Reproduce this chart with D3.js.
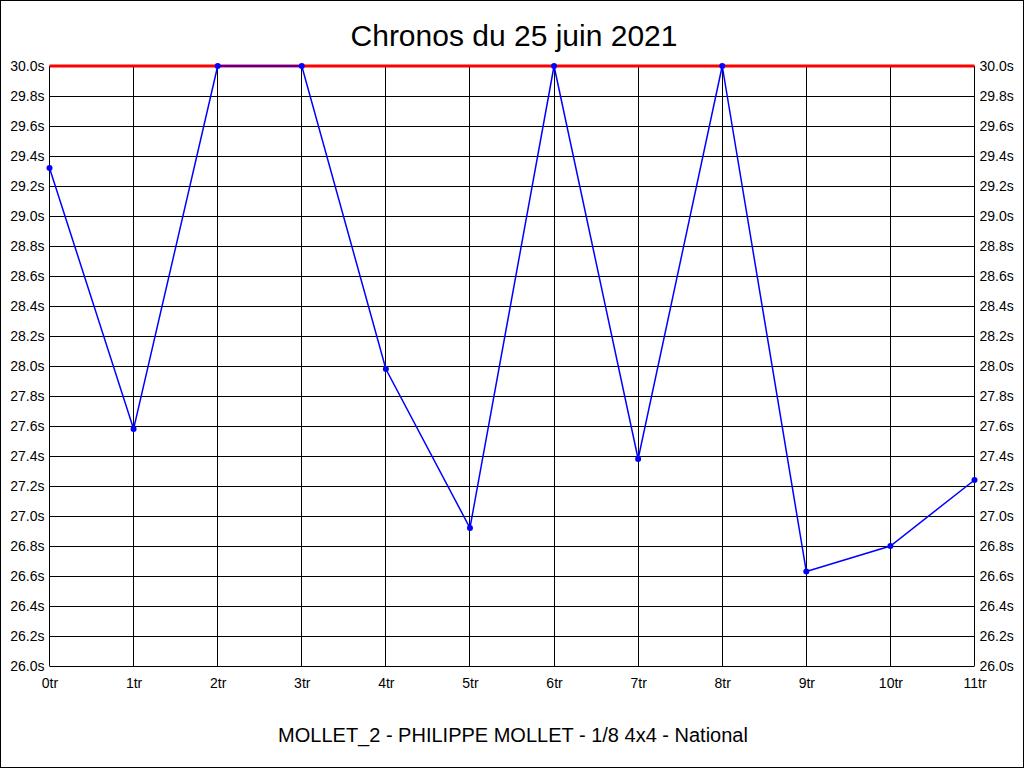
<!DOCTYPE html>
<html>
<head>
<meta charset="utf-8">
<script src="https://cdn.jsdelivr.net/npm/d3@7"></script>
<style>
  body { margin: 0; background: #fff; }
  text { font-family: "Liberation Sans", Arial, sans-serif; }
</style>
</head>
<body>
<div id="chart"></div>
<script>
var laps = ["0tr", "1tr", "2tr", "3tr", "4tr", "5tr", "6tr", "7tr", "8tr", "9tr", "10tr", "11tr"];
var times = [29.32, 27.58, 30.0, 30.0, 27.98, 26.92, 30.0, 27.38, 30.0, 26.63, 26.80, 27.24];
var yTicks = [26.0, 26.2, 26.4, 26.6, 26.8, 27.0, 27.2, 27.4, 27.6, 27.8, 28.0, 28.2, 28.4, 28.6, 28.8, 29.0, 29.2, 29.4, 29.6, 29.8, 30.0];
var limit = 30.0;
var title = "Chronos du 25 juin 2021";
var footer = "MOLLET_2 - PHILIPPE MOLLET - 1/8 4x4 - National";

var width = 1024;
var height = 768;
var plotLeft = 49.5, plotRight = 974.5, plotTop = 66, plotBottom = 666;

var x = d3.scalePoint()
    .domain(laps)
    .range([plotLeft, plotRight]);

var y = d3.scaleLinear()
    .domain([26, 30])
    .range([plotBottom, plotTop]);

var svg = d3.select("#chart")
    .append("svg")
    .attr("width", width)
    .attr("height", height);

svg.append("rect")
    .attr("x", 0.5).attr("y", 0.5)
    .attr("width", width - 1).attr("height", height - 1)
    .attr("fill", "#fff")
    .attr("stroke", "#000");

// grid
svg.append("g")
    .selectAll("line")
    .data(yTicks)
    .enter().append("line")
    .attr("x1", plotLeft).attr("x2", plotRight)
    .attr("y1", function(d) { return Math.round(y(d)) + 0.5; })
    .attr("y2", function(d) { return Math.round(y(d)) + 0.5; })
    .attr("stroke", "#000");

svg.append("g")
    .selectAll("line")
    .data(laps)
    .enter().append("line")
    .attr("x1", function(d) { return Math.floor(x(d)) + 0.5; })
    .attr("x2", function(d) { return Math.floor(x(d)) + 0.5; })
    .attr("y1", plotTop).attr("y2", plotBottom)
    .attr("stroke", "#000");

// axes
var yLeft = svg.append("g")
    .attr("transform", "translate(" + plotLeft + ",0)")
    .call(d3.axisLeft(y).tickValues(yTicks).tickSize(0).tickPadding(5)
        .tickFormat(function(d) { return d.toFixed(1) + "s"; }));
var yRight = svg.append("g")
    .attr("transform", "translate(" + plotRight + ",0)")
    .call(d3.axisRight(y).tickValues(yTicks).tickSize(0).tickPadding(5)
        .tickFormat(function(d) { return d.toFixed(1) + "s"; }));
var xAxis = svg.append("g")
    .attr("transform", "translate(0," + plotBottom + ")")
    .call(d3.axisBottom(x).tickSize(0).tickPadding(12));

[yLeft, yRight, xAxis].forEach(function(g) {
    g.select(".domain").remove();
    g.selectAll("text")
        .attr("fill", "#000")
        .style("font-size", "14px")
        .style("font-family", "'Liberation Sans', Arial, sans-serif");
});

// limit line
svg.append("line")
    .attr("x1", plotLeft).attr("x2", plotRight)
    .attr("y1", y(limit)).attr("y2", y(limit))
    .attr("stroke", "#ff0000")
    .attr("stroke-width", 3);

// series
var line = d3.line()
    .x(function(d, i) { return x(laps[i]); })
    .y(function(d) { return y(d); });

svg.append("path")
    .datum(times)
    .attr("d", line)
    .attr("fill", "none")
    .attr("stroke", "#0000ff")
    .attr("stroke-width", 1.5);

svg.selectAll("circle.pt")
    .data(times)
    .enter().append("circle")
    .attr("class", "pt")
    .attr("cx", function(d, i) { return x(laps[i]); })
    .attr("cy", function(d) { return y(d); })
    .attr("r", 3)
    .attr("fill", "#0000ff");

svg.append("text")
    .attr("x", 514).attr("y", 46)
    .attr("text-anchor", "middle")
    .style("font-size", "30px")
    .text(title);

svg.append("text")
    .attr("x", 513).attr("y", 742)
    .attr("text-anchor", "middle")
    .style("font-size", "20px")
    .text(footer);
</script>
</body>
</html>
